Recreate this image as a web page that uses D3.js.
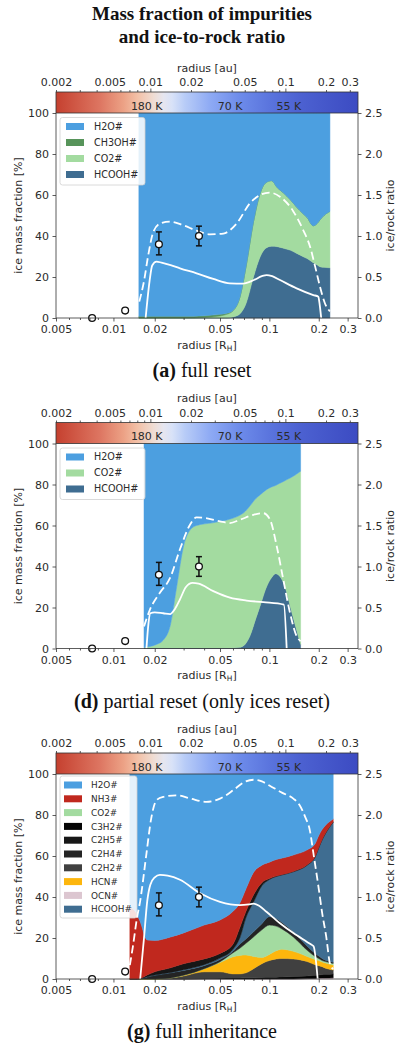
<!DOCTYPE html>
<html>
<head>
<meta charset="utf-8">
<script src="https://cdn.jsdelivr.net/npm/d3@7"></script>
<style>
  body { margin: 0; background: #fff; }
  svg { display: block; }
</style>
</head>
<body>
<svg id="fig" width="401" height="1043"></svg>
<script>
// ---------- shared axis data ----------
const auTicks = [0.002, 0.005, 0.01, 0.02, 0.05, 0.1, 0.2, 0.3];
const auMajor = [0.01, 0.1];
// labelled radius ticks [R_H]: positions and the text printed at them
const rhTickPos = [0.005, 0.0112, 0.02, 0.05, 0.1, 0.2, 0.3];
const rhTickText = ["0.005", "0.01", "0.02", "0.05", "0.1", "0.2", "0.3"];
const fracTicks = [0, 20, 40, 60, 80, 100];
const ratioTicks = [0, 0.5, 1.0, 1.5, 2.0, 2.5];

// temperature colour bar (positions in au)
const tempLabels = ["180 K", "70 K", "55 K"];
const tempLabelAu = [0.0094, 0.039, 0.106];
const cbarAu = [0.002, 0.0042, 0.0063, 0.008, 0.0105, 0.0125, 0.0145, 0.018, 0.0277, 0.046, 0.077, 0.129, 0.345];
const cbarColor = ["#c5402f", "#dd7561", "#eca185", "#f3c0a6", "#efdcd2", "#e6e6ef", "#d8e2f8", "#b8ccf7", "#8eaaf4", "#6d8bea", "#5a74dd", "#4c61d1", "#3c4bc2"];

// Galilean moons: radius [R_H] and ice/rock ratio with error range
const moonR = [0.0083, 0.0132, 0.0212, 0.0372];
const moonRatio = [0, 0.09, 0.90, 1.00];
const moonLo = [null, null, 0.77, 0.88];
const moonHi = [null, null, 1.05, 1.12];

// species colours
const speciesColor = {
  "H2O#": "#4c9fe0", "CH3OH#": "#57945a", "CO2#": "#a3dba0", "HCOOH#": "#3f6d91",
  "NH3#": "#c0281e", "C3H2#": "#050505", "C2H5#": "#171717", "C2H4#": "#242424",
  "C2H2#": "#404040", "HCN#": "#fdb60d", "OCN#": "#dcc6d0"
};

// ---------- (a) full reset ----------
const radiusA = [0.016, 0.018, 0.02, 0.025, 0.03, 0.04, 0.05, 0.055, 0.06, 0.066, 0.072, 0.08, 0.088, 0.095, 0.103, 0.112, 0.122, 0.135, 0.147, 0.16, 0.17, 0.185, 0.195, 0.204, 0.215, 0.234];
const hcoohA = [0, 0, 0, 0, 0, 0, 0, 0, 0.5, 2, 7, 20, 30, 34, 35, 34.8, 34, 33, 31.5, 30, 29, 27, 26, 25, 24.7, 24.5];
const co2A   = [0, 0, 0, 0, 0, 0.3, 1, 1.8, 3.0, 8, 18, 27, 31, 32, 32, 28.7, 27, 24.5, 22.5, 21, 20, 18, 20, 23, 25.3, 27.5];
const ch3ohA = [0.8, 0.8, 0.8, 0.8, 0.8, 0.8, 0.8, 0.5, 0.2, 0, 0, 0, 0, 0, 0, 0, 0, 0, 0, 0, 0, 0, 0, 0, 0, 0];
const h2oA   = [99.2, 99.2, 99.2, 99.2, 99.2, 98.9, 98.2, 97.7, 96.3, 90, 75, 53, 39, 34, 33, 36.5, 39, 42.5, 46, 49, 51, 55, 54, 52, 50, 48];
const solidA_r = [0.0176, 0.0186, 0.0193, 0.0205, 0.022, 0.025, 0.0285, 0.036, 0.0455, 0.0575, 0.0693, 0.08, 0.09, 0.0963, 0.104, 0.1161, 0.1466, 0.1853, 0.199, 0.2015, 0.207];
const solidA_v = [0, 0.45, 0.64, 0.688, 0.675, 0.645, 0.606, 0.545, 0.476, 0.423, 0.42, 0.46, 0.51, 0.524, 0.51, 0.463, 0.362, 0.28, 0.26, 0.2, 0];
const dashA_r = [0.0161, 0.0172, 0.0182, 0.0196, 0.0215, 0.0248, 0.0299, 0.036, 0.0434, 0.0524, 0.063, 0.0762, 0.0877, 0.1, 0.116, 0.14, 0.161, 0.177, 0.19, 0.2036, 0.218, 0.234];
const dashA_v = [0.2, 0.45, 0.75, 1.05, 1.15, 1.175, 1.13, 1.065, 1.02, 1.03, 1.15, 1.4, 1.5, 1.53, 1.48, 1.3, 1.07, 0.87, 0.63, 0.38, 0.18, 0.08];

// ---------- (d) partial reset ----------
const radiusD = [0.0172, 0.0187, 0.0205, 0.0225, 0.025, 0.0272, 0.03, 0.033, 0.036, 0.045, 0.057, 0.066, 0.07, 0.076, 0.083, 0.088, 0.096, 0.103, 0.109, 0.115, 0.122, 0.128, 0.134, 0.146, 0.155];
const hcoohD = [0.3, 0.3, 0.3, 0.3, 0.3, 0.3, 0.3, 0.3, 0.3, 0.3, 0.3, 0.6, 1.5, 6, 15, 21, 30, 34.5, 36.5, 35.5, 32, 27, 20.6, 9.5, 2];
const co2D   = [0.2, 0.7, 1.7, 3.7, 11.7, 29.7, 49.7, 57.7, 59.7, 61, 62.7, 64.4, 64.8, 63.5, 58.3, 54, 47.5, 44.3, 43, 45, 49.5, 55.4, 62.6, 75.5, 84.5];
const h2oD   = [99.5, 99, 98, 96, 88, 70, 50, 42, 40, 38.7, 37, 35, 33.7, 30.5, 26.7, 25, 22.5, 21.2, 20.5, 19.5, 18.5, 17.6, 16.8, 15, 13.5];
const solidD_r = [0.0178, 0.0183, 0.0188, 0.02, 0.0225, 0.0248, 0.0265, 0.0285, 0.031, 0.034, 0.037, 0.0455, 0.0575, 0.0727, 0.0918, 0.1225, 0.1275];
const solidD_v = [0, 0.3, 0.43, 0.44, 0.43, 0.42, 0.48, 0.6, 0.75, 0.8, 0.79, 0.7, 0.62, 0.585, 0.565, 0.535, 0];
const dashD_r = [0.0172, 0.0187, 0.0215, 0.0248, 0.0285, 0.0328, 0.036, 0.041, 0.05, 0.0575, 0.0662, 0.0798, 0.0918, 0.101, 0.1108, 0.1216, 0.1336, 0.1466, 0.1552];
const dashD_v = [0.27, 0.475, 0.68, 0.86, 1.21, 1.51, 1.6, 1.59, 1.55, 1.53, 1.57, 1.63, 1.65, 1.57, 1.25, 0.84, 0.435, 0.15, 0.09];

// ---------- (g) full inheritance ----------
const radiusG = [0.0141, 0.0155, 0.0163, 0.018, 0.02, 0.025, 0.03, 0.04, 0.05, 0.06, 0.066, 0.072, 0.08, 0.09, 0.1, 0.11, 0.12, 0.14, 0.17, 0.19, 0.2, 0.21, 0.22, 0.245];
const ocnG   = [0, 0, 0, 0, 0, 0, 0, 0, 0, 0, 0, 0, 0, 0, 0, 0, 0, 0, 0.2, 0.3, 0.4, 0.5, 0.5, 0.6];
const c3h2G  = [0, 0, 0, 0, 0, 0, 0, 0.2, 0.4, 0.5, 0.5, 0.6, 0.6, 0.7, 0.8, 0.9, 1.0, 1.2, 1.3, 1.5, 1.6, 1.7, 1.8, 1.9];
const c2h2G  = [0, 0, 0, 0, 0, 0.5, 1.5, 3.3, 3.1, 2.0, 2.0, 2.4, 4.4, 6.8, 8.2, 8.9, 9.0, 8.6, 7.0, 5.2, 4.5, 3.8, 3.0, 1.9];
const hcnG   = [0, 0, 0, 0, 0, 0, 0.3, 1.5, 4.5, 8.3, 9.0, 8.7, 6.0, 3.0, 3.0, 4.0, 4.5, 3.7, 2.5, 2.5, 2.5, 2.3, 2.5, 2.4];
const co2G   = [0, 0, 0, 0, 0, 0, 0, 0, 0.4, 2.0, 3.5, 5.7, 9.5, 13.5, 14.3, 12.0, 9.8, 7.0, 3.0, 1.5, 1.0, 0.7, 0.7, 0.8];
const c2h4G  = [0, 0, 0.2, 1.0, 1.8, 2.5, 2.4, 1.5, 1.1, 0.7, 2.0, 2.1, 2.5, 3.0, 4.1, 3.7, 3.2, 2.5, 2.0, 1.5, 1.2, 1.0, 0.7, 0.6];
const hcoohG = [0, 0, 0, 0.1, 0.1, 0.2, 0.3, 0.5, 0.7, 1.0, 3.0, 10.5, 14.5, 18.5, 18.1, 20.5, 23.3, 29.3, 39.5, 47, 52.8, 58, 61.8, 68.3];
const c2h5G  = [0, 0, 0.1, 0.9, 1.6, 2.3, 3.0, 2.8, 2.3, 2.5, 5.0, 3.0, 3.5, 1.5, 0.5, 0.2, 0.2, 0.2, 0.2, 0.2, 0.2, 0.2, 0.2, 0.2];
const nh3G   = [35, 32, 27.7, 17, 15.3, 15, 15, 16.5, 16.3, 16, 12, 11, 11, 8.5, 8, 8.1, 8, 8, 7.3, 6.3, 5.8, 4.8, 3.8, 1.3];
const h2oG   = [65, 68, 72, 81, 81.2, 79.5, 77.5, 73.7, 71.2, 67, 63, 56, 48, 44.5, 43, 41.7, 41, 39.5, 37, 34, 30, 27, 25, 22];
const solidG_r = [0.0163, 0.0172, 0.018, 0.0188, 0.02, 0.0215, 0.024, 0.0285, 0.0378, 0.05, 0.066, 0.075, 0.08, 0.087, 0.096, 0.116, 0.14, 0.169, 0.18, 0.186, 0.197];
const solidG_v = [0, 0.5, 0.95, 1.15, 1.24, 1.27, 1.26, 1.21, 1.045, 0.94, 0.9, 0.91, 0.92, 0.89, 0.82, 0.68, 0.56, 0.455, 0.42, 0.4, 0];
const dashG_r = [0.0141, 0.0147, 0.0156, 0.0163, 0.0178, 0.019, 0.0205, 0.0225, 0.0272, 0.033, 0.0413, 0.05, 0.06, 0.07, 0.08, 0.09, 0.1, 0.12, 0.14, 0.153, 0.165, 0.177, 0.185, 0.2, 0.21, 0.222, 0.234, 0.245];
const dashG_v = [0.17, 0.39, 0.75, 0.95, 1.53, 1.95, 2.18, 2.22, 2.24, 2.2, 2.16, 2.2, 2.3, 2.4, 2.43, 2.41, 2.36, 2.27, 2.2, 2.12, 1.98, 1.8, 1.55, 1.1, 0.8, 0.52, 0.19, 0.12];

// ---------- panel definitions ----------
const panels = [
  {
    tag: "(a)", caption: " full reset",
    radius: radiusA,
    series: { "H2O#": h2oA, "CH3OH#": ch3ohA, "CO2#": co2A, "HCOOH#": hcoohA },
    stackOrder: ["HCOOH#", "CO2#", "CH3OH#", "H2O#"],
    legend: ["H2O#", "CH3OH#", "CO2#", "HCOOH#"],
    solid: [solidA_r, solidA_v], dashed: [dashA_r, dashA_v]
  },
  {
    tag: "(d)", caption: " partial reset (only ices reset)",
    radius: radiusD,
    series: { "H2O#": h2oD, "CO2#": co2D, "HCOOH#": hcoohD },
    stackOrder: ["HCOOH#", "CO2#", "H2O#"],
    legend: ["H2O#", "CO2#", "HCOOH#"],
    solid: [solidD_r, solidD_v], dashed: [dashD_r, dashD_v]
  },
  {
    tag: "(g)", caption: " full inheritance",
    radius: radiusG,
    series: { "H2O#": h2oG, "NH3#": nh3G, "CO2#": co2G, "C3H2#": c3h2G, "C2H5#": c2h5G,
              "C2H4#": c2h4G, "C2H2#": c2h2G, "HCN#": hcnG, "OCN#": ocnG, "HCOOH#": hcoohG },
    stackOrder: ["OCN#", "C3H2#", "C2H2#", "HCN#", "CO2#", "C2H4#", "HCOOH#", "C2H5#", "NH3#", "H2O#"],
    legend: ["H2O#", "NH3#", "CO2#", "C3H2#", "C2H5#", "C2H4#", "C2H2#", "HCN#", "OCN#", "HCOOH#"],
    solid: [solidG_r, solidG_v], dashed: [dashG_r, dashG_v]
  }
];

// ---------- layout ----------
const W = 401;
const left = 56, right = 358;
const plotH = 205, cbH = 21;
const panelTops = [113, 443.5, 774];
const legendLayout = [
  { x: 60, w: 85, top: 4.5, first: 13.5, step: 16, font: 9.6, patchX: 66, textX: 94, pad: 10.5 },
  { x: 60, w: 85, top: 4.5, first: 13.5, step: 16, font: 9.6, patchX: 66, textX: 94, pad: 10.5 },
  { x: 60, w: 77, top: 2, first: 11, step: 13.8, font: 8.9, patchX: 64, textX: 91, pad: 8.8 }
];
const tickFont = "DejaVu Sans, Verdana, sans-serif";
const serif = "Liberation Serif, Times New Roman, serif";
const textCol = "#2b2b2b";

const svg = d3.select("#fig");
svg.append("rect").attr("width", W).attr("height", 1043).attr("fill", "#fff");

// main title
const title = svg.append("text").attr("text-anchor", "middle")
  .attr("font-family", serif).attr("font-weight", "bold").attr("font-size", 19).attr("fill", "#111");
title.append("tspan").attr("x", 202).attr("y", 19.5).text("Mass fraction of impurities");
title.append("tspan").attr("x", 202).attr("y", 42.5).text("and ice-to-rock ratio");

const defs = svg.append("defs");

// 2..9 multiples of each decade inside a log domain, skipping the given values
function minorTicksFor(domain, skip) {
  const out = [];
  for (let e = -4; e <= 0; e++) {
    for (let m = 1; m <= 9; m++) {
      const v = +(m * Math.pow(10, e)).toPrecision(3);
      if (v >= domain[0] * 0.999 && v <= domain[1] * 1.001 && !skip.includes(v)) out.push(v);
    }
  }
  return out;
}

function styleAxis(sel) {
  sel.select(".domain").remove();
  sel.selectAll(".tick line").attr("stroke", "#333").attr("stroke-width", 0.8);
  sel.selectAll(".tick text").attr("fill", textCol).attr("font-family", tickFont).attr("font-size", 11);
}

panels.forEach((p, i) => {
  const top = panelTops[i];
  const bottom = top + plotH;
  const g = svg.append("g");

  const x = d3.scaleLog().domain([0.005, 0.347]).range([left, right]);
  const xAu = d3.scaleLog().domain([0.002, 0.345]).range([left, right]);
  const y = d3.scaleLinear().domain([0, 100]).range([bottom, top]);
  const y2 = d3.scaleLinear().domain([0, 2.5]).range([bottom, top]);

  // stacked ice composition
  const rows = p.radius.map((r, k) => {
    const o = { r };
    Object.keys(p.series).forEach(key => { o[key] = p.series[key][k]; });
    return o;
  });
  const stacked = d3.stack().keys(p.stackOrder)(rows);
  const area = d3.area()
    .x(d => x(d.data.r)).y0(d => y(d[0])).y1(d => y(Math.min(100, d[1])))
    .curve(d3.curveMonotoneX);
  g.append("g").selectAll("path").data(stacked).join("path")
    .attr("d", area)
    .attr("fill", d => speciesColor[d.key])
    .attr("stroke", d => speciesColor[d.key])
    .attr("stroke-width", 0.5);

  // legend
  const lg = legendLayout[i];
  const nL = p.legend.length;
  const boxTop = top + lg.top;
  const boxH = lg.first - lg.top + (nL - 1) * lg.step + lg.pad;
  const leg = g.append("g");
  leg.append("rect").attr("x", lg.x).attr("y", boxTop).attr("width", lg.w).attr("height", boxH)
    .attr("rx", 2.5).attr("fill", "#fff").attr("fill-opacity", 0.85)
    .attr("stroke", "#d0d0d0").attr("stroke-width", 0.8);
  p.legend.forEach((key, k) => {
    const cy = top + lg.first + k * lg.step;
    leg.append("rect").attr("x", lg.patchX).attr("y", cy - 3.5).attr("width", 18).attr("height", 7)
      .attr("fill", speciesColor[key]);
    leg.append("text").attr("x", lg.textX).attr("y", cy).attr("dy", "0.36em")
      .attr("font-family", tickFont).attr("font-size", lg.font).attr("fill", textCol).text(key);
  });

  // ice/rock ratio curves
  const line = d3.line().x(d => x(d[0])).y(d => y2(d[1])).curve(d3.curveMonotoneX);
  const solidPts = p.solid[0].map((r, k) => [r, p.solid[1][k]]);
  const dashPts = p.dashed[0].map((r, k) => [r, p.dashed[1][k]]);
  g.append("path").attr("d", line(solidPts)).attr("fill", "none")
    .attr("stroke", "#fff").attr("stroke-width", 1.8);
  g.append("path").attr("d", line(dashPts)).attr("fill", "none")
    .attr("stroke", "#fff").attr("stroke-width", 1.8).attr("stroke-dasharray", "8,4");

  // moons with error bars
  moonR.forEach((r, k) => {
    const cx = x(r);
    if (moonLo[k] !== null) {
      g.append("line").attr("x1", cx).attr("x2", cx).attr("y1", y2(moonLo[k])).attr("y2", y2(moonHi[k]))
        .attr("stroke", "#111").attr("stroke-width", 1.5);
      [moonLo[k], moonHi[k]].forEach(v => {
        g.append("line").attr("x1", cx - 3).attr("x2", cx + 3).attr("y1", y2(v)).attr("y2", y2(v))
          .attr("stroke", "#111").attr("stroke-width", 1.5);
      });
    }
    g.append("circle").attr("cx", cx).attr("cy", y2(moonRatio[k])).attr("r", 3.4)
      .attr("fill", "#fff").attr("stroke", "#111").attr("stroke-width", 1.3);
  });

  // spines
  g.append("path").attr("d", `M${left},${top}V${bottom}H${right}V${top}`)
    .attr("fill", "none").attr("stroke", "#333").attr("stroke-width", 0.8);

  // bottom axis (radius in Hill radii)
  const bx = g.append("g").attr("transform", `translate(0,${bottom})`);
  bx.append("g").call(d3.axisBottom(x).tickValues(minorTicksFor([0.005, 0.347], [0.005, 0.01, 0.02, 0.05, 0.1, 0.2, 0.3])).tickSize(2).tickFormat("")).call(styleAxis);
  bx.append("g").call(d3.axisBottom(x).tickValues(rhTickPos).tickSize(3.5).tickPadding(4)
    .tickFormat((d, k) => rhTickText[k])).call(styleAxis);
  const xl = g.append("text").attr("x", 207).attr("y", bottom + 27).attr("dy", "0.35em")
    .attr("text-anchor", "middle").attr("font-family", tickFont).attr("font-size", 11).attr("fill", textCol);
  xl.append("tspan").text("radius [R");
  xl.append("tspan").attr("font-size", 7.5).attr("dy", "0.25em").text("H");
  xl.append("tspan").attr("dy", "-0.17em").text("]");

  // left / right axes
  g.append("g").attr("transform", `translate(${left},0)`)
    .call(d3.axisLeft(y).tickValues(fracTicks).tickSize(3.5).tickPadding(3.5)).call(styleAxis);
  g.append("g").attr("transform", `translate(${right},0)`)
    .call(d3.axisRight(y2).tickValues(ratioTicks).tickSize(3.5).tickPadding(3.5).tickFormat(d3.format(".1f"))).call(styleAxis);
  g.append("text").attr("transform", `translate(18,${top + plotH / 2}) rotate(-90)`)
    .attr("dy", "0.35em").attr("text-anchor", "middle").attr("font-family", tickFont)
    .attr("font-size", 11).attr("fill", textCol).text("ice mass fraction [%]");
  g.append("text").attr("transform", `translate(390,${top + plotH / 2}) rotate(-90)`)
    .attr("dy", "0.35em").attr("text-anchor", "middle").attr("font-family", tickFont)
    .attr("font-size", 11).attr("fill", textCol).text("ice/rock ratio");

  // temperature colour bar with au axis
  const cbTop = top - cbH;
  const gradId = "cbar" + i;
  const grad = defs.append("linearGradient").attr("id", gradId)
    .attr("gradientUnits", "userSpaceOnUse").attr("x1", left).attr("x2", right).attr("y1", 0).attr("y2", 0);
  cbarAu.forEach((a, k) => {
    grad.append("stop").attr("offset", (xAu(a) - left) / (right - left)).attr("stop-color", cbarColor[k]);
  });
  g.append("rect").attr("x", left).attr("y", cbTop).attr("width", right - left).attr("height", cbH)
    .attr("fill", `url(#${gradId})`).attr("stroke", "#333").attr("stroke-width", 0.8);
  tempLabels.forEach((t, k) => {
    g.append("text").attr("x", xAu(tempLabelAu[k])).attr("y", top - 7).attr("dy", "0.35em")
      .attr("text-anchor", "middle").attr("font-family", tickFont).attr("font-size", 11)
      .attr("fill", textCol).text(t);
  });
  const tx = g.append("g").attr("transform", `translate(0,${cbTop})`);
  tx.append("g").call(d3.axisTop(xAu).tickValues(minorTicksFor([0.002, 0.345], auMajor)).tickSize(2).tickFormat("")).call(styleAxis);
  tx.append("g").call(d3.axisTop(xAu).tickValues(auMajor).tickSize(3.5).tickFormat("")).call(styleAxis);
  tx.append("g").call(d3.axisTop(xAu).tickValues(auTicks).tickSize(0).tickPadding(6).tickFormat(d => String(d))).call(styleAxis);
  g.append("text").attr("x", 207).attr("y", cbTop - 24).attr("dy", "0.35em")
    .attr("text-anchor", "middle").attr("font-family", tickFont).attr("font-size", 11)
    .attr("fill", textCol).text("radius [au]");

  // panel caption
  const cap = g.append("text").attr("x", 202).attr("y", top + 264)
    .attr("text-anchor", "middle").attr("font-family", serif).attr("font-size", 20).attr("fill", "#111");
  cap.append("tspan").attr("font-weight", "bold").text(p.tag);
  cap.append("tspan").text(p.caption);
});
</script>
</body>
</html>
